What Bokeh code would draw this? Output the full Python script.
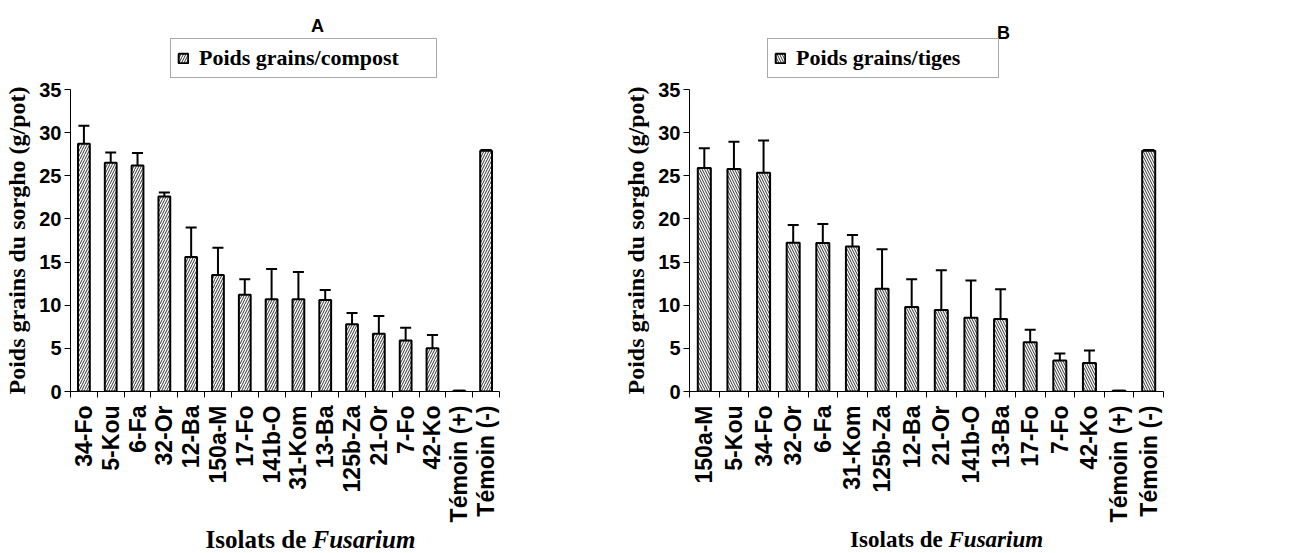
import math
from bokeh.plotting import figure
from bokeh.models import (ColumnDataSource, FixedTicker, Whisker, TeeHead, Legend,
                          LegendItem, Range1d)
from bokeh.core.properties import value
from bokeh.layouts import row, column
from bokeh.embed import file_html
from bokeh.resources import INLINE

# ---------------- data ----------------
cats_a = ["34-Fo", "5-Kou", "6-Fa", "32-Or", "12-Ba", "150a-M", "17-Fo", "141b-O",
          "31-Kom", "13-Ba", "125b-Za", "21-Or", "7-Fo", "42-Ko", "Témoin (+)", "Témoin (-)"]
vals_a = [28.7, 26.5, 26.2, 22.6, 15.6, 13.5, 11.2, 10.7, 10.7, 10.6, 7.8, 6.7, 5.9, 5.0, 0.1, 27.9]
errs_a = [2.1, 1.2, 1.45, 0.45, 3.4, 3.15, 1.8, 3.5, 3.15, 1.15, 1.3, 2.05, 1.5, 1.55, 0.0, 0.1]

cats_b = ["150a-M", "5-Kou", "34-Fo", "32-Or", "6-Fa", "31-Kom", "125b-Za", "12-Ba",
          "21-Or", "141b-O", "13-Ba", "17-Fo", "7-Fo", "42-Ko", "Témoin (+)", "Témoin (-)"]
vals_b = [25.9, 25.8, 25.35, 17.25, 17.2, 16.8, 11.9, 9.8, 9.45, 8.55, 8.4, 5.7, 3.6, 3.3, 0.1, 27.9]
errs_b = [2.3, 3.15, 3.75, 2.05, 2.2, 1.35, 4.6, 3.2, 4.6, 4.3, 3.45, 1.45, 0.8, 1.45, 0.0, 0.1]

y_ticks = [0, 5, 10, 15, 20, 25, 30, 35]
y_label = "Poids grains du sorgho (g/pot)"
legend_a = "Poids grains/compost"
legend_b = "Poids grains/tiges"
x_label_1 = "Isolats de "
x_label_2 = "Fusarium"

SANS = "Liberation Sans"
SERIF = "Liberation Serif"
TOP_H = 79
FRAME_TOP = 89
FRAME_BOTTOM = 391
BOTTOM_BORDER = 134
MAIN_H = (FRAME_BOTTOM - TOP_H) + BOTTOM_BORDER
BOT_H = 553 - TOP_H - MAIN_H


def bar_style(hatch):
    return dict(fill_color="white", line_color="black", line_width=2,
                hatch_pattern=hatch, hatch_scale=5, hatch_weight=1,
                hatch_color="#333333")


def main_panel(cats, vals, errs, hatch, width, bl, br):
    n = len(cats)
    xs = [i + 0.5 for i in range(n)]
    src = ColumnDataSource(dict(x=xs, top=vals,
                                upper=[v + e for v, e in zip(vals, errs)]))
    p = figure(width=width, height=MAIN_H, x_range=Range1d(0, n), y_range=Range1d(0, 35),
               output_backend="svg", toolbar_location=None, title=None,
               min_border_left=bl, min_border_right=br,
               min_border_top=FRAME_TOP - TOP_H,
               min_border_bottom=BOTTOM_BORDER)
    p.outline_line_color = None
    p.grid.visible = False
    p.background_fill_color = "white"
    p.border_fill_color = "white"

    p.vbar(x="x", top="top", bottom=0, width=0.44, source=src, **bar_style(hatch))
    w = Whisker(source=src, base="x", lower="top", upper="upper", dimension="height",
                line_width=2, line_color="black",
                upper_head=TeeHead(size=11, line_width=2, line_color="black"),
                lower_head=None)
    p.add_layout(w)

    xa = p.xaxis[0]
    xa.ticker = FixedTicker(ticks=xs, minor_ticks=list(range(n + 1)))
    xa.major_label_overrides = {x: c for x, c in zip(xs, cats)}
    xa.major_tick_in = 0
    xa.major_tick_out = 0
    xa.minor_tick_in = 0
    xa.minor_tick_out = 6
    xa.minor_tick_line_color = "black"
    xa.axis_line_color = "black"
    xa.major_label_orientation = math.pi / 2
    xa.major_label_standoff = 8
    xa.major_label_text_font = SANS
    xa.major_label_text_font_style = "bold"
    xa.major_label_text_font_size = "23px"
    xa.major_label_text_color = "black"

    ya = p.yaxis[0]
    ya.ticker = FixedTicker(ticks=y_ticks, minor_ticks=[])
    ya.major_tick_in = 0
    ya.major_tick_out = 6
    ya.major_tick_line_color = "black"
    ya.axis_line_color = "black"
    ya.major_label_standoff = 3
    ya.major_label_text_font = SANS
    ya.major_label_text_font_style = "bold"
    ya.major_label_text_font_size = "20px"
    ya.major_label_text_color = "black"
    ya.axis_label = y_label
    ya.axis_label_text_font = SERIF
    ya.axis_label_text_font_style = "bold"
    ya.axis_label_text_font_size = "24px"
    ya.axis_label_text_color = "black"
    ya.axis_label_standoff = 6
    return p


# strips share the main plot's frame (column layouts align frame edges),
# so their x ranges are expressed in the panel's own pixel coordinates.
def top_strip(width, fl, fr, hatch, letter, letter_xy, legend_text, legend_x, legend_lw):
    s = figure(width=width, height=TOP_H, x_range=Range1d(fl, fr),
               y_range=Range1d(0, TOP_H), output_backend="svg",
               toolbar_location=None, title=None, x_axis_type=None, y_axis_type=None,
               min_border_left=fl, min_border_right=width - fr,
               min_border_top=0, min_border_bottom=0)
    s.outline_line_color = None
    s.text(x=[letter_xy[0]], y=[TOP_H - letter_xy[1]], text=[letter],
           text_font=value(SANS), text_font_style="bold", text_font_size="18px",
           text_align="center", text_baseline="middle", text_color="black")
    r = s.vbar(x=[float("nan")], top=[float("nan")], bottom=0, width=1, **bar_style(hatch))
    legend = Legend(items=[LegendItem(label=legend_text, renderers=[r])],
                    location=(legend_x - fl, 1), padding=6, margin=0, spacing=0,
                    glyph_width=12, glyph_height=12, label_standoff=10,
                    label_width=legend_lw,
                    label_text_font=SERIF, label_text_font_style="bold",
                    label_text_font_size="22px", label_text_color="black",
                    border_line_color="#555555", border_line_width=1,
                    background_fill_color="white", background_fill_alpha=1)
    s.add_layout(legend)
    return s


def bottom_strip(width, fl, fr, split_x, size):
    s = figure(width=width, height=BOT_H, x_range=Range1d(fl, fr),
               y_range=Range1d(0, BOT_H), output_backend="svg",
               toolbar_location=None, title=None, x_axis_type=None, y_axis_type=None,
               min_border_left=fl, min_border_right=width - fr,
               min_border_top=0, min_border_bottom=0)
    s.outline_line_color = None
    s.text(x=[split_x], y=[14], text=[x_label_1], text_font=value(SERIF),
           text_font_style="bold", text_font_size=size, text_align="right",
           text_baseline="middle", text_color="black")
    s.text(x=[split_x], y=[14], text=[x_label_2], text_font=value(SERIF),
           text_font_style="bold italic", text_font_size=size, text_align="left",
           text_baseline="middle", text_color="black")
    return s


WA, WB = 610, 680
FLA, FRA = 70, 499
FLB, FRB = 689 - WA, 1163 - WA

ta = top_strip(WA, FLA, FRA, "/", "A", (317, 25), legend_a, 170, 265 - 12 - 12 - 10)
tb = top_strip(WB, FLB, FRB, "\\", "B", (1003 - WA, 32), legend_b, 767 - WA,
               230 - 12 - 12 - 10)
pa = main_panel(cats_a, vals_a, errs_a, "/", WA, FLA, WA - FRA)
pb = main_panel(cats_b, vals_b, errs_b, "\\", WB, FLB, WB - FRB)
ba = bottom_strip(WA, FLA, FRA, 312, "25px")
bb = bottom_strip(WB, FLB, FRB, 948 - WA, "23px")

layout = row(column(ta, pa, ba), column(tb, pb, bb))
open("out.html", "w").write(file_html(layout, INLINE))
